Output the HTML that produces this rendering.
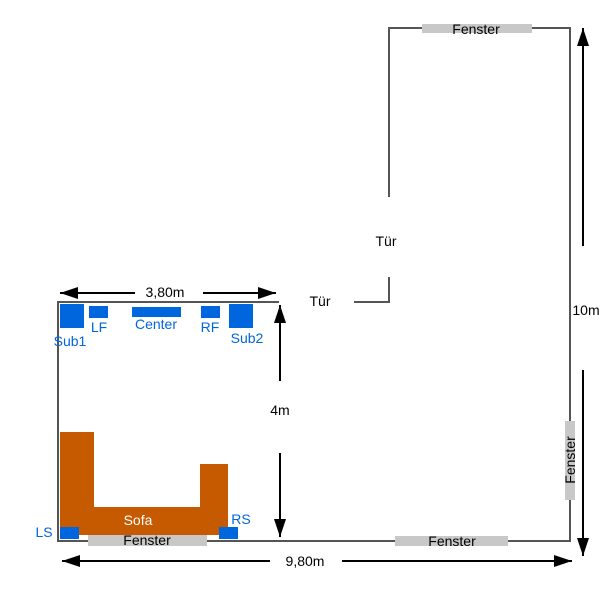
<!DOCTYPE html>
<html><head><meta charset="utf-8"><style>body{margin:0;background:#fff}svg{display:block}text{font-family:"Liberation Sans",Arial,sans-serif;font-size:14px}</style></head>
<body>
<svg width="600" height="600" viewBox="0 0 600 600" xmlns="http://www.w3.org/2000/svg">
<defs>
<marker id="b" viewBox="0 0 18 12" markerWidth="18" markerHeight="12" refX="18" refY="6" orient="auto" markerUnits="userSpaceOnUse"><path d="M0,0 L18,6 L0,12 z" fill="#000"/></marker></defs>
<g stroke="#555" stroke-width="2" fill="none">
<path d="M279,302 L58,302 L58,541 L570,541 L570,28 L389,28 L389,197"/>
<path d="M354,302 L389,302 L389,277"/>
</g>
<g fill="#c8c8c8">
<rect x="422" y="24" width="110" height="9"/>
<rect x="565" y="421" width="10" height="79"/>
<rect x="395" y="536" width="113" height="10"/>
<rect x="88" y="535" width="119" height="11"/>
</g>
<g fill="#c55a00">
<rect x="60" y="432" width="34" height="103"/>
<rect x="60" y="507" width="168" height="28"/>
<rect x="200" y="464" width="28" height="71"/>
</g>
<g fill="#0066dd">
<rect x="60" y="304" width="24" height="24"/>
<rect x="89" y="306" width="19" height="12"/>
<rect x="132" y="307" width="49" height="10"/>
<rect x="201" y="306" width="19" height="12"/>
<rect x="229" y="304" width="24" height="24"/>
<rect x="60" y="527" width="19" height="12"/>
<rect x="219" y="527" width="19" height="12"/>
</g>
<g stroke="#000" stroke-width="2" fill="none">
<line x1="135" y1="293" x2="60" y2="293" marker-end="url(#b)"/>
<line x1="203" y1="293" x2="276" y2="293" marker-end="url(#b)"/>
<line x1="280" y1="381" x2="280" y2="305" marker-end="url(#b)"/>
<line x1="280" y1="453" x2="280" y2="537" marker-end="url(#b)"/>
<line x1="270" y1="561" x2="62" y2="561" marker-end="url(#b)"/>
<line x1="342" y1="561" x2="572" y2="561" marker-end="url(#b)"/>
<line x1="583" y1="246" x2="583" y2="28" marker-end="url(#b)"/>
<line x1="583" y1="370" x2="583" y2="556" marker-end="url(#b)"/>
</g>
<g fill="#000" text-anchor="middle">
<text x="165" y="297">3,80m</text>
<text x="280" y="415">4m</text>
<text x="305" y="566">9,80m</text>
<text x="586" y="315">10m</text>
<text x="320" y="306">Tür</text>
<text x="386" y="246">Tür</text>
<text x="476" y="34">Fenster</text>
<text x="147" y="545">Fenster</text>
<text x="452" y="546">Fenster</text>
<text transform="translate(575,460) rotate(-90)">Fenster</text>
</g>
<text x="138" y="525" fill="#fff" text-anchor="middle">Sofa</text>
<g fill="#0066dd" text-anchor="middle">
<text x="70" y="346">Sub1</text>
<text x="99" y="332">LF</text>
<text x="156" y="329">Center</text>
<text x="210" y="332">RF</text>
<text x="247" y="343">Sub2</text>
<text x="44" y="537">LS</text>
<text x="241" y="524">RS</text>
</g>
</svg>
</body></html>
